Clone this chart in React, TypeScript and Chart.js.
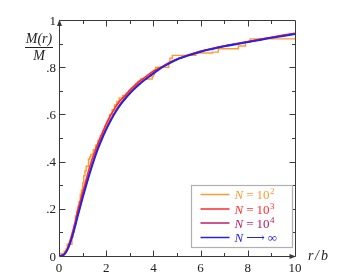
import { useEffect, useRef } from "react";
import { Chart, registerables } from "chart.js";

Chart.register(...registerables);

// ---- data ----
const xMajorTicks = [0, 2, 4, 6, 8, 10];
const xTickLabels = ["0", "2", "4", "6", "8", "10"];
const xMinorTicks = [1, 3, 5, 7, 9];
const yMajorTicks = [0, 0.2, 0.4, 0.6, 0.8, 1];
const yTickLabels = ["0", ".2", ".4", ".6", ".8", "1"];
const yMinorTicks = [0.1, 0.3, 0.5, 0.7, 0.9];

const seriesColors = ["#ff9a30", "#ff2a2a", "#b82060", "#2222ee"];
const legendRel = ["=", "=", "=", "\u27F6"];
const legendVal = ["10", "10", "10", "\u221E"];
const legendExp = ["2", "3", "4", ""];

// N = 10^2 (step function)
const orangeX = [0, 0.22, 0.3, 0.35, 0.55, 0.6, 0.65, 0.7, 0.75, 0.8, 0.85, 0.9, 0.95, 1.0, 1.05, 1.1, 1.15, 1.25, 1.3, 1.35, 1.45, 1.55, 1.65, 1.75, 1.85, 1.95, 2.05, 2.15, 2.25, 2.35, 2.45, 2.55, 2.7, 2.85, 2.95, 3.05, 3.15, 3.25, 3.35, 3.45, 3.95, 4.0, 4.05, 4.1, 4.65, 4.7, 4.8, 5.8, 6.5, 6.75, 7.6, 7.9, 8.1, 9.75, 10];
const orangeY = [0, 0.01, 0.02, 0.03, 0.05, 0.08, 0.1, 0.13, 0.17, 0.19, 0.21, 0.23, 0.26, 0.28, 0.31, 0.34, 0.36, 0.38, 0.41, 0.42, 0.43, 0.45, 0.47, 0.49, 0.51, 0.53, 0.55, 0.57, 0.6, 0.62, 0.64, 0.655, 0.67, 0.68, 0.69, 0.7, 0.71, 0.72, 0.73, 0.74, 0.75, 0.76, 0.77, 0.787, 0.8, 0.82, 0.838, 0.85, 0.86, 0.864, 0.878, 0.89, 0.906, 0.92, 0.92];

// N = 10^3
const redX = [0, 0.2, 0.35, 0.5, 0.65, 0.8, 0.95, 1.1, 1.25, 1.4, 1.55, 1.7, 1.85, 2.0, 2.15, 2.3, 2.45, 2.6, 2.75, 2.9, 3.05, 3.2, 3.35, 3.5, 3.65, 3.8, 4.0, 4.2, 4.4, 4.6, 4.8, 5.0, 5.3, 5.6, 6.0, 6.4, 6.8, 7.2, 7.6, 8.0, 8.5, 9.0, 9.5, 10];
const redY = [0, 0.006, 0.03, 0.075, 0.13, 0.195, 0.25, 0.305, 0.36, 0.41, 0.45, 0.49, 0.525, 0.56, 0.59, 0.615, 0.64, 0.66, 0.675, 0.692, 0.708, 0.722, 0.737, 0.747, 0.758, 0.77, 0.784, 0.794, 0.804, 0.816, 0.826, 0.835, 0.846, 0.856, 0.868, 0.877, 0.886, 0.894, 0.901, 0.909, 0.918, 0.927, 0.936, 0.944];

// N = 10^4 and N -> infinity
const smoothX = [0, 0.2, 0.4, 0.6, 0.8, 1.0, 1.2, 1.4, 1.6, 1.8, 2.0, 2.2, 2.4, 2.6, 2.8, 3.0, 3.2, 3.4, 3.6, 3.8, 4.0, 4.3, 4.6, 5.0, 5.5, 6.0, 6.5, 7.0, 7.5, 8.0, 8.5, 9.0, 9.5, 10];
const pinkY = [0, 0.005, 0.038, 0.1, 0.178, 0.252, 0.322, 0.388, 0.447, 0.497, 0.54, 0.58, 0.615, 0.645, 0.67, 0.692, 0.712, 0.73, 0.746, 0.761, 0.776, 0.797, 0.814, 0.834, 0.852, 0.867, 0.879, 0.89, 0.899, 0.908, 0.917, 0.926, 0.934, 0.942];
const blueY = [0, 0.004, 0.035, 0.095, 0.17, 0.245, 0.315, 0.38, 0.44, 0.49, 0.535, 0.575, 0.61, 0.64, 0.665, 0.688, 0.708, 0.726, 0.743, 0.758, 0.773, 0.795, 0.812, 0.832, 0.85, 0.865, 0.877, 0.888, 0.897, 0.906, 0.915, 0.924, 0.932, 0.94];

const pts = (xs: number[], ys: number[]) => xs.map((x, i) => ({ x, y: ys[i] }));

const SERIF = '"Liberation Serif", "Times New Roman", Times, "DejaVu Serif", serif';
const AXIS = "#3a3a3a";

const framePlugin = {
  id: "frame",
  afterDatasetsDraw(chart: any) {
    const { ctx, chartArea: a, scales } = chart;
    const xs = scales.x;
    const ys = scales.y;
    const L = Math.round(a.left) + 0.5;
    const R = Math.round(a.right) + 0.5;
    const T = Math.round(a.top) + 0.5;
    const B = Math.round(a.bottom) + 0.5;
    ctx.save();
    ctx.strokeStyle = AXIS;
    ctx.lineWidth = 1;
    ctx.beginPath();
    ctx.moveTo(L, B); ctx.lineTo(R, B);
    ctx.moveTo(L, B); ctx.lineTo(L, T);
    ctx.moveTo(L, T); ctx.lineTo(R, T);
    ctx.moveTo(R, T); ctx.lineTo(R, B);
    const xt = (v: number, len: number) => {
      const p = Math.round(xs.getPixelForValue(v)) + 0.5;
      ctx.moveTo(p, B); ctx.lineTo(p, B - len);
      ctx.moveTo(p, T); ctx.lineTo(p, T + len);
    };
    xMajorTicks.forEach((v) => { if (v > xs.min && v < xs.max) xt(v, 6); });
    xMinorTicks.forEach((v) => xt(v, 3.5));
    const yt = (v: number, len: number) => {
      const p = Math.round(ys.getPixelForValue(v)) + 0.5;
      ctx.moveTo(L, p); ctx.lineTo(L + len, p);
      ctx.moveTo(R, p); ctx.lineTo(R - len, p);
    };
    yMajorTicks.forEach((v) => { if (v > ys.min && v < ys.max) yt(v, 6); });
    yMinorTicks.forEach((v) => yt(v, 3.5));
    ctx.stroke();
    // arrows
    ctx.fillStyle = AXIS;
    ctx.beginPath();
    ctx.moveTo(R + 0.5, B); ctx.lineTo(R - 6, B - 2.5); ctx.lineTo(R - 6, B + 2.5); ctx.closePath();
    ctx.fill();
    ctx.beginPath();
    ctx.moveTo(L, T - 1); ctx.lineTo(L - 2.5, T + 5.5); ctx.lineTo(L + 2.5, T + 5.5); ctx.closePath();
    ctx.fill();

    // tick labels
    ctx.fillStyle = "#222";
    ctx.font = `13px ${SERIF}`;
    ctx.textAlign = "center";
    ctx.textBaseline = "alphabetic";
    xMajorTicks.forEach((v, i) => {
      ctx.fillText(xTickLabels[i], xs.getPixelForValue(v), a.bottom + 15.5);
    });
    ctx.textAlign = "right";
    yMajorTicks.forEach((v, i) => {
      ctx.fillText(yTickLabels[i], a.left - 3, ys.getPixelForValue(v) + 4.5);
    });

    // axis titles
    ctx.font = `italic 14px ${SERIF}`;
    ctx.textAlign = "center";
    const cx = a.left - 20;
    ctx.fillText("M(r)", cx, a.top + 23);
    ctx.fillText("M", cx, a.top + 40);
    ctx.beginPath();
    ctx.moveTo(cx - 14, a.top + 27.5);
    ctx.lineTo(cx + 14, a.top + 27.5);
    ctx.strokeStyle = "#222";
    ctx.stroke();
    ctx.textAlign = "left";
    ctx.fillText("r", a.right + 13, a.bottom + 4);
    ctx.fillText("/", a.right + 20, a.bottom + 4);
    ctx.fillText("b", a.right + 26, a.bottom + 4);

    // legend
    const bx = Math.round(a.right) - 103.5;
    const by = Math.round(a.bottom) - 70.5;
    const bw = 101;
    const bh = 62;
    ctx.fillStyle = "#fff";
    ctx.fillRect(bx, by, bw, bh);
    ctx.strokeStyle = "#b0b0b0";
    ctx.lineWidth = 1.2;
    ctx.strokeRect(bx, by, bw, bh);
    const rowY = [by + 9, by + 23.5, by + 37.5, by + 52];
    chart.data.datasets.forEach((_: any, idx: number) => {
      const col = seriesColors[idx];
      const yy = rowY[idx];
      ctx.strokeStyle = col;
      ctx.lineWidth = 1.5;
      ctx.beginPath();
      ctx.moveTo(bx + 9, yy);
      ctx.lineTo(bx + 38, yy);
      ctx.stroke();
      ctx.fillStyle = col;
      let tx = bx + 43;
      const base = yy + 4.5;
      ctx.font = `italic 13px ${SERIF}`;
      ctx.fillText("N", tx, base);
      tx += ctx.measureText("N").width + 3;
      ctx.font = `13px ${SERIF}`;
      ctx.fillText(legendRel[idx], tx, base);
      tx += ctx.measureText(legendRel[idx]).width + 3;
      ctx.fillText(legendVal[idx], tx, base);
      tx += ctx.measureText(legendVal[idx]).width + 0.5;
      if (legendExp[idx]) {
        ctx.font = `9px ${SERIF}`;
        ctx.fillText(legendExp[idx], tx, base - 5);
      }
    });
    ctx.restore();
  },
};

export default function App() {
  const ref = useRef<HTMLCanvasElement | null>(null);
  useEffect(() => {
    if (!ref.current) return;
    const chart = new Chart(ref.current, {
      type: "line",
      data: {
        datasets: [
          { label: "N=10^2", data: pts(orangeX, orangeY), borderColor: seriesColors[0], borderWidth: 1.4, stepped: "after", order: 4 },
          { label: "N=10^3", data: pts(redX, redY), borderColor: seriesColors[1], borderWidth: 1.6, order: 3 },
          { label: "N=10^4", data: pts(smoothX, pinkY), borderColor: seriesColors[2], borderWidth: 1.6, cubicInterpolationMode: "monotone", order: 2 },
          { label: "N->inf", data: pts(smoothX, blueY), borderColor: seriesColors[3], borderWidth: 1.8, cubicInterpolationMode: "monotone", order: 1 },
        ] as any,
      },
      options: {
        responsive: false,
        animation: false,
        devicePixelRatio: 1,
        layout: { padding: { left: 59, right: 60, top: 20, bottom: 20 } },
        plugins: { legend: { display: false }, tooltip: { enabled: false } },
        elements: { point: { radius: 0 }, line: { tension: 0 } },
        scales: {
          x: { type: "linear", min: 0, max: 10, display: false },
          y: { type: "linear", min: 0, max: 1, display: false },
        },
      },
      plugins: [framePlugin],
    });
    return () => chart.destroy();
  }, []);
  return (
    <div style={{ position: "absolute", left: 0, top: 0, width: 355, height: 276, background: "#fff" }}>
      <canvas ref={ref} width={355} height={276} style={{ display: "block" }} />
    </div>
  );
}
